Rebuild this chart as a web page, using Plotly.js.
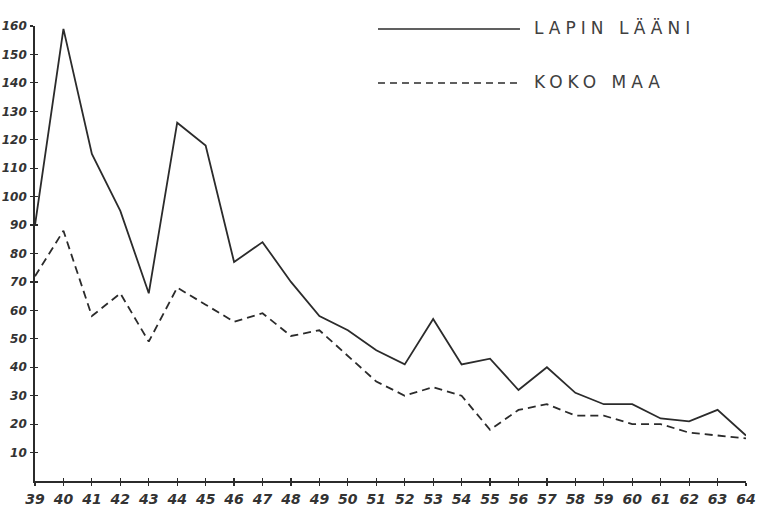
<!DOCTYPE html>
<html>
<head>
<meta charset="utf-8">
<script src="https://cdn.plot.ly/plotly-3.0.1.min.js"></script>
<style>
  html, body { margin: 0; padding: 0; background: #ffffff; }
  #chart { width: 762px; height: 512px; }
  .annotation-text { letter-spacing: 5px; }
</style>
</head>
<body>
<div id="chart"></div>
<script>
// Years (19xx)
const years = [39,40,41,42,43,44,45,46,47,48,49,50,51,52,53,54,55,56,57,58,59,60,61,62,63,64];
const yearLabels = years.map(String);

// Lapin lääni (solid)
const lapinLaani = [90,159,115,95,66,126,118,77,84,70,58,53,46,41,57,41,43,32,40,31,27,27,22,21,25,16];

// Koko maa (dashed)
const kokoMaa = [72,88,58,66,49,68,62,56,59,51,53,44,35,30,33,30,18,25,27,23,23,20,20,17,16,15];

const yTicks = [10,20,30,40,50,60,70,80,90,100,110,120,130,140,150,160];
const yTickLabels = yTicks.map(String);

const seriesNames = ["LAPIN LÄÄNI", "KOKO MAA"];

const ink = "#2b2b2b";
const tickFont = { family: "DejaVu Sans, sans-serif", size: 12, color: "#333", style: "italic", weight: 600 };

const traces = [
  { x: years, y: lapinLaani, type: "scatter", mode: "lines", name: seriesNames[0],
    line: { color: ink, width: 1.8 }, showlegend: false, cliponaxis: false },
  { x: years, y: kokoMaa, type: "scatter", mode: "lines", name: seriesNames[1],
    line: { color: ink, width: 1.8, dash: "8px,5px" }, showlegend: false, cliponaxis: false }
];

const layout = {
  width: 762, height: 512,
  margin: { l: 35, r: 16, t: 26, b: 31 },
  paper_bgcolor: "#ffffff", plot_bgcolor: "#ffffff",
  showlegend: false,
  xaxis: {
    range: [39, 64], tickvals: years, ticktext: yearLabels,
    showgrid: false, zeroline: false, showline: true, linecolor: ink, linewidth: 1.8,
    ticks: "outside", ticklen: 3, tickcolor: ink, tickwidth: 1.2,
    tickfont: { family: "DejaVu Sans, sans-serif", size: 14, color: "#333", style: "italic", weight: 600 },
    ticklabelstandoff: 1
  },
  xaxis2: {
    range: [39, 64], tickvals: years, overlaying: "x", anchor: "y",
    showgrid: false, zeroline: false, showline: false, showticklabels: false,
    ticks: "inside", ticklen: 3, tickcolor: ink, tickwidth: 1.2
  },
  yaxis: {
    range: [0, 160], tickvals: yTicks, ticktext: yTickLabels,
    showgrid: false, zeroline: false, showline: true, linecolor: ink, linewidth: 1.8,
    ticks: "outside", ticklen: 3, tickcolor: ink, tickwidth: 1.2,
    tickfont: tickFont, ticklabelstandoff: 1
  },
  yaxis2: {
    range: [0, 160], tickvals: yTicks, overlaying: "y", anchor: "x",
    showgrid: false, zeroline: false, showline: false, showticklabels: false,
    ticks: "inside", ticklen: 3, tickcolor: ink, tickwidth: 1.2
  },
  shapes: [
    { type: "line", xref: "paper", yref: "paper", x0: 0.4824, x1: 0.6821, y0: 0.9934, y1: 0.9934,
      line: { color: ink, width: 1.4 } },
    { type: "line", xref: "paper", yref: "paper", x0: 0.4824, x1: 0.6821, y0: 0.8747, y1: 0.8747,
      line: { color: ink, width: 1.4, dash: "7px,5px" } }
  ],
  annotations: [
    { xref: "paper", yref: "paper", x: 0.699, y: 0.9956, xanchor: "left", yanchor: "middle",
      text: seriesNames[0], showarrow: false,
      font: { family: "DejaVu Sans, sans-serif", size: 17, color: "#404040" } },
    { xref: "paper", yref: "paper", x: 0.699, y: 0.877, xanchor: "left", yanchor: "middle",
      text: seriesNames[1], showarrow: false,
      font: { family: "DejaVu Sans, sans-serif", size: 17, color: "#404040" } }
  ]
};

// invisible trace to activate the inside-tick overlay axes
traces.push({ x: [years[0]], y: [yTicks[0]], xaxis: "x2", yaxis: "y2", type: "scatter", mode: "markers",
  marker: { opacity: 0 }, hoverinfo: "skip", showlegend: false });

Plotly.newPlot("chart", traces, layout, { displayModeBar: false, staticPlot: true });
</script>
</body>
</html>
